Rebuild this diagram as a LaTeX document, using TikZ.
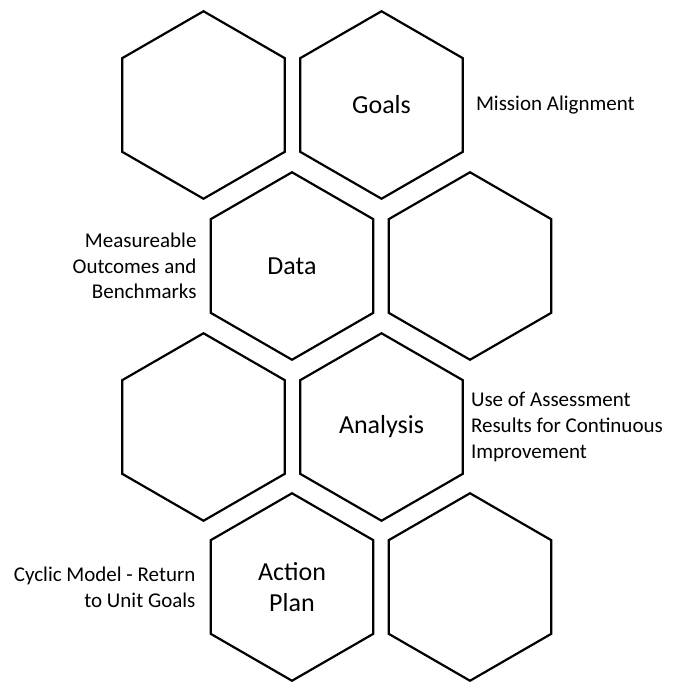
\documentclass[tikz,border=0pt]{standalone}
\usepackage{fontspec}
\setmainfont{Carlito}
\usetikzlibrary{positioning, shapes.geometric}

\begin{document}
\begin{tikzpicture}[
			x=1pt, y=-1pt,
			node distance=12pt,
			hexcell/.style={draw, line width=2.2pt, regular polygon, regular polygon sides=6, shape border rotate=30, minimum size=187.5pt, inner sep=0pt, align=center, font=\fontsize{26}{31}\selectfont},
			note/.style={inner sep=0pt, font=\fontsize{21}{25.6}\selectfont}
		]
		\useasboundingbox (0,0) rectangle (674,682);
		% honeycomb, four rows
		\node[hexcell] (blankA) at (203.5,105) {};
		\node[hexcell] (goals) at (381.5,105) {Goals};
		\node[hexcell] (data) at (292,266) {Data};
		\node[hexcell] (blankB) at (470,266) {};
		\node[hexcell] (blankC) at (203.5,427) {};
		\node[hexcell] (analysis) at (381.5,427) {Analysis};
		\node[hexcell] (action) at (292,587) {Action\\Plan};
		\node[hexcell] (blankD) at (470,587) {};
		% side notes
		\node[note, right=12pt of goals] (mission) {Mission Alignment};
		\node[note, left=13pt of data, align=right] (outcomes) {Measureable\\Outcomes and\\Benchmarks};
		\node[note, right=7pt of analysis, align=left] (results) {Use of Assessment\\Results for Continuous\\Improvement};
		\node[note, left=14pt of action, align=right] (cyclic) {Cyclic Model - Return\\to Unit Goals};
	\end{tikzpicture}
\end{document}
